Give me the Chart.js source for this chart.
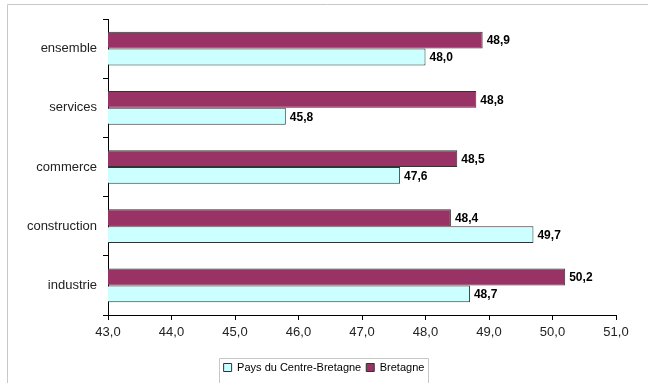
<!DOCTYPE html>
<html>
<head>
<meta charset="utf-8">
<script src="https://cdn.jsdelivr.net/npm/chart.js@4"></script>
<style>
  html, body { margin: 0; padding: 0; background: #fff; }
  #wrap { position: relative; width: 648px; height: 383px; }
</style>
</head>
<body>
<div id="wrap"><canvas id="c" width="648" height="383"></canvas></div>
<script>
// categories, top to bottom
const categories = ["ensemble", "services", "commerce", "construction", "industrie"];
const bretagne = [48.9, 48.8, 48.5, 48.4, 50.2];
const paysCentre = [48.0, 45.8, 47.6, 49.7, 48.7];
const xMin = 43, xMax = 51;

const FONT = "'Liberation Sans', Arial, sans-serif";

function fr(v){ return v.toFixed(1).replace(".", ","); }

// value labels at bar ends
const barLabels = {
    id: "barLabels",
    afterDatasetsDraw(chart){
        const ctx = chart.ctx;
        ctx.save();
        ctx.font = "bold 12px " + FONT;
        ctx.fillStyle = "#000";
        ctx.textBaseline = "middle";
        ctx.textAlign = "left";
        chart.data.datasets.forEach((ds, i) => {
            chart.getDatasetMeta(i).data.forEach((bar, j) => {
                ctx.fillText(fr(ds.data[j]), bar.x + 4, bar.y + 1);
            });
        });
        ctx.restore();
    }
};

// frame lines, legend centred on the page + box around it
const frames = {
    id: "frames",
    afterLayout(chart){
        const lg = chart.legend;
        const d = Math.round(chart.width / 2 - (lg.left + lg.right) / 2);
        lg.left += d;
        lg.right += d;
        (lg.legendHitBoxes || []).forEach(b => { b.left += d; });
    },
    beforeDraw(chart){
        const ctx = chart.ctx;
        ctx.save();
        ctx.strokeStyle = "#c8c8c8";
        ctx.lineWidth = 1;
        ctx.beginPath();
        ctx.moveTo(7.5, chart.height);
        ctx.lineTo(7.5, 4.5);
        ctx.lineTo(chart.width, 4.5);
        ctx.stroke();
        ctx.restore();
    },
    afterDraw(chart){
        const boxes = chart.legend.legendHitBoxes;
        if(!boxes || !boxes.length) return;
        let l = Math.min(...boxes.map(b => b.left)) - 5;
        let r = Math.max(...boxes.map(b => b.left + b.width)) + 4;
        let t = Math.min(...boxes.map(b => b.top)) - 4;
        const ctx = chart.ctx;
        ctx.save();
        ctx.strokeStyle = "#c8c8c8";
        ctx.lineWidth = 1;
        ctx.beginPath();
        ctx.moveTo(Math.round(l) + 0.5, chart.height);
        ctx.lineTo(Math.round(l) + 0.5, Math.round(t) + 0.5);
        ctx.lineTo(Math.round(r) + 0.5, Math.round(t) + 0.5);
        ctx.lineTo(Math.round(r) + 0.5, chart.height);
        ctx.stroke();
        ctx.restore();
    }
};

new Chart(document.getElementById("c"), {
    type: "bar",
    data: {
        labels: categories,
        datasets: [
            {
                label: "Bretagne",
                data: bretagne,
                backgroundColor: "#993366",
                borderColor: "#333333",
                borderWidth: 1,
                borderSkipped: false,
                categoryPercentage: 0.57,
                barPercentage: 1.0
            },
            {
                label: "Pays du Centre-Bretagne",
                data: paysCentre,
                backgroundColor: "#ccffff",
                borderColor: "#333333",
                borderWidth: 1,
                borderSkipped: false,
                categoryPercentage: 0.57,
                barPercentage: 1.0
            }
        ]
    },
    options: {
        indexAxis: "y",
        responsive: false,
        animation: false,
        layout: { padding: { left: 8, top: 19, right: 32, bottom: 0 } },
        scales: {
            x: {
                min: xMin,
                max: xMax,
                base: xMin,
                ticks: {
                    stepSize: 1,
                    color: "#222",
                    font: { family: FONT, size: 13 },
                    padding: 5,
                    callback: v => fr(v)
                },
                grid: { drawOnChartArea: false, drawTicks: true, tickLength: 5, color: "#000" },
                border: { color: "#000" },
                afterFit: s => { s.height = 42; }
            },
            y: {
                ticks: { color: "#222", font: { family: FONT, size: 13 }, padding: 6 },
                grid: { drawOnChartArea: false, drawTicks: true, tickLength: 5, color: "#000", offset: true },
                border: { color: "#000" },
                afterFit: s => { s.width = 100; }
            }
        },
        plugins: {
            legend: {
                position: "bottom",
                reverse: true,
                labels: {
                    boxWidth: 8,
                    boxHeight: 8,
                    padding: 5,
                    color: "#000",
                    font: { family: FONT, size: 11 }
                }
            },
            tooltip: { enabled: false }
        }
    },
    plugins: [barLabels, frames]
});
</script>
</body>
</html>
